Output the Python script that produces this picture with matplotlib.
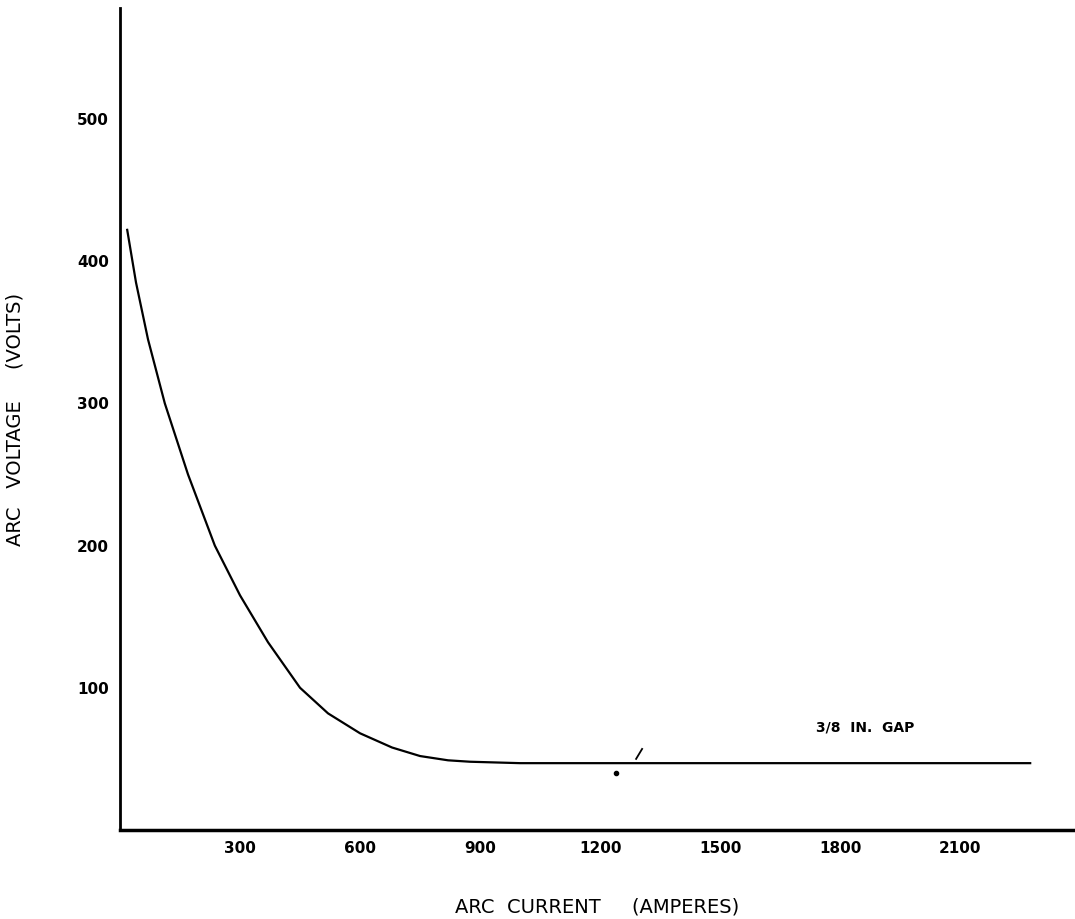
import matplotlib.pyplot as plt

amps = [18, 40, 70, 112, 170, 237, 300, 370, 450, 520, 600, 680, 750, 820, 875, 1000, 1500, 2000, 2275]
volts = [422, 385, 345, 300, 250, 200, 165, 132, 100, 82, 68, 58, 52, 49, 48, 47, 47, 47, 47]
xticks = [300, 600, 900, 1200, 1500, 1800, 2100]
yticks = [100, 200, 300, 400, 500]

fig = plt.figure(figsize=(10.75, 9.19), dpi=100)
ax = fig.add_axes([120 / 1075, 1 - 830 / 919, 955 / 1075, 822 / 919])
ax.plot(amps, volts, color='black', lw=1.6)
ax.plot([1290, 1305], [50, 57], color='black', lw=1.3)
ax.plot([1240], [40], 'ko', ms=3)
ax.text(1740, 69, '3/8  IN.  GAP', fontsize=10, fontweight='bold')

ax.set_xlim(0, 2387)
ax.set_ylim(0, 578)
ax.set_xticks(xticks)
ax.set_yticks(yticks)
ax.tick_params(length=0, labelsize=11, pad=8)
for lab in ax.get_xticklabels() + ax.get_yticklabels():
    lab.set_fontweight('bold')
for s in ['top', 'right']:
    ax.spines[s].set_visible(False)
ax.spines['left'].set_linewidth(2)
ax.spines['bottom'].set_linewidth(2.5)
ax.set_xlabel('ARC  CURRENT     (AMPERES)', fontsize=14, labelpad=30)
ax.set_ylabel('ARC   VOLTAGE     (VOLTS)', fontsize=14)
ax.yaxis.set_label_coords(-95 / 955, 0.5)

fig.savefig('out.png')
